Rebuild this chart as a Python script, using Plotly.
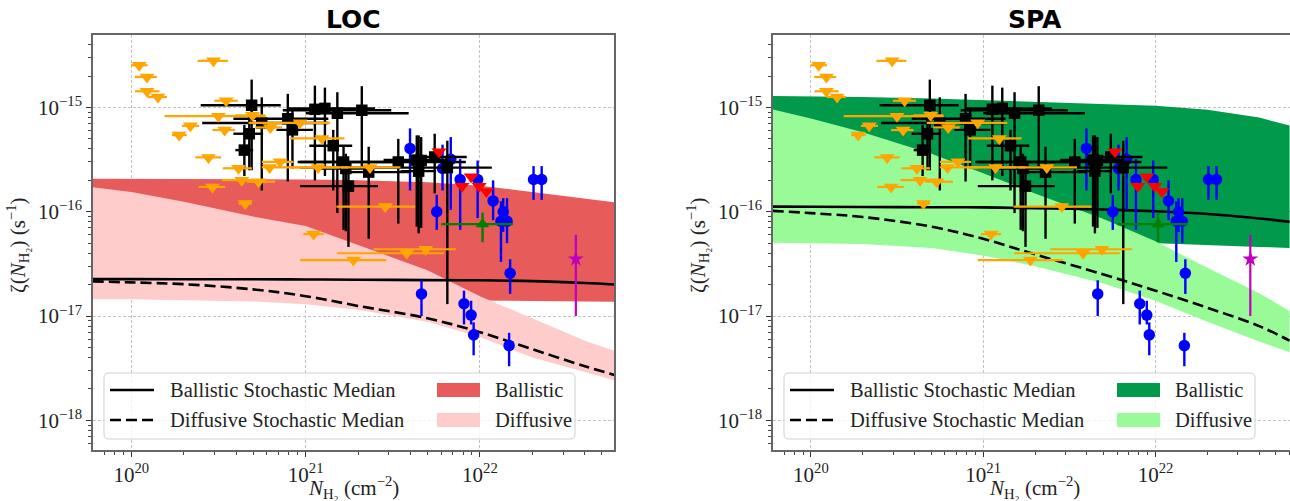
import plotly.graph_objects as go

W, H = 1290, 501

# ---------------- model curves (column density grid) ----------------
N_grid = [6e19, 1e20, 2e20, 5e20, 1e21, 2e21, 5e21, 1e22, 2e22, 4e22, 6e22]

loc_ball_upper = [2.07e-16, 2.07e-16, 2.06e-16, 2.05e-16, 2.04e-16, 2.0e-16, 1.92e-16, 1.78e-16, 1.55e-16, 1.33e-16, 1.23e-16]
loc_ball_lower = [1.46e-17, 1.46e-17, 1.45e-17, 1.45e-17, 1.44e-17, 1.43e-17, 1.42e-17, 1.41e-17, 1.39e-17, 1.38e-17, 1.37e-17]
loc_diff_upper = [1.72e-16, 1.55e-16, 1.25e-16, 9.0e-17, 7.3e-17, 4.8e-17, 2.75e-17, 1.55e-17, 9.5e-18, 5.8e-18, 4.6e-18]
loc_diff_lower = [1.45e-17, 1.45e-17, 1.43e-17, 1.38e-17, 1.3e-17, 1.15e-17, 8.8e-18, 6.3e-18, 4.0e-18, 2.9e-18, 2.4e-18]
loc_ball_median = [2.26e-17, 2.26e-17, 2.25e-17, 2.25e-17, 2.24e-17, 2.23e-17, 2.21e-17, 2.2e-17, 2.16e-17, 2.07e-17, 2.0e-17]
loc_diff_median = [2.15e-17, 2.1e-17, 2.02e-17, 1.8e-17, 1.55e-17, 1.25e-17, 9.5e-18, 7.0e-18, 4.8e-18, 3.3e-18, 2.7e-18]

spa_ball_upper = [1.29e-15, 1.28e-15, 1.26e-15, 1.22e-15, 1.18e-15, 1.14e-15, 1.09e-15, 1.04e-15, 9.5e-16, 8.0e-16, 6.7e-16]
spa_ball_lower = [5.5e-17, 5.5e-17, 5.45e-17, 5.4e-17, 5.35e-17, 5.3e-17, 5.2e-17, 5.05e-17, 4.8e-17, 4.6e-17, 4.5e-17]
spa_diff_upper = [9.6e-16, 7.85e-16, 5.8e-16, 3.6e-16, 2.34e-16, 1.5e-16, 8.5e-17, 5.2e-17, 2.9e-17, 1.65e-17, 1.12e-17]
spa_diff_lower = [5.05e-17, 5.0e-17, 4.9e-17, 4.5e-17, 3.8e-17, 3.0e-17, 2.05e-17, 1.4e-17, 8.8e-18, 5.7e-18, 4.5e-18]
spa_ball_median = [1.12e-16, 1.115e-16, 1.11e-16, 1.105e-16, 1.1e-16, 1.08e-16, 1.05e-16, 1.01e-16, 9.5e-17, 8.6e-17, 8.0e-17]
spa_diff_median = [1.02e-16, 9.7e-17, 8.9e-17, 7.2e-17, 5.5e-17, 3.9e-17, 2.5e-17, 1.75e-17, 1.2e-17, 8.0e-18, 5.8e-18]

# ---------------- observations ----------------
# orange: upper limits
ul_N = [1.11e20, 1.23e20, 1.23e20, 1.42e20, 2.96e20, 3.50e20, 3.16e20, 2.18e20, 1.88e20, 3.43e20,
        4.95e20, 6.27e20, 9.29e20, 1.24e21, 2.77e20, 4.12e20, 7.14e20, 6.21e20, 1.18e21, 2.34e21,
        4.30e20, 5.37e20, 2.92e20, 4.50e20, 1.11e21, 1.88e21, 3.80e21, 4.89e21, 2.86e21]
ul_zeta = [2.54e-15, 1.96e-15, 1.43e-15, 1.26e-15, 2.80e-15, 1.16e-15, 8.26e-16, 6.67e-16, 5.44e-16, 6.07e-16,
           8.40e-16, 6.43e-16, 7.13e-16, 5.05e-16, 3.32e-16, 2.61e-16, 3.01e-16, 2.66e-16, 2.66e-16, 2.66e-16,
           2.01e-16, 1.94e-16, 1.73e-16, 1.20e-16, 6.10e-17, 3.44e-17, 4.00e-17, 4.37e-17, 1.12e-16]
ul_N_lo = [9.95e19, 1.045e20, 1.05e20, 1.24e20, 2.40e20, 2.99e20, 1.55e20, 1.95e20, 1.71e20, 2.92e20,
           3.94e20, 5.13e20, 4.70e20, 8.15e20, 2.33e20, 3.35e20, 5.60e20, 5.60e20, 8.10e20, 1.60e21,
           3.31e20, 4.60e20, 2.43e20, 4.12e20, 9.70e20, 9.30e20, 1.51e21, 2.45e21, 1.50e21]
ul_N_hi = [1.24e20, 1.40e20, 1.45e20, 1.60e20, 3.58e20, 4.08e20, 5.90e20, 2.45e20, 2.08e20, 3.94e20,
           5.86e20, 7.31e20, 1.38e21, 1.67e21, 3.27e20, 4.92e20, 8.50e20, 1.55e21, 1.75e21, 3.50e21,
           5.86e20, 6.68e20, 3.46e20, 4.92e20, 1.27e21, 2.90e21, 6.20e21, 7.30e21, 4.25e21]

# black squares
sq_N = [4.9e20, 5.6e20, 4.75e20, 4.45e20, 7.9e20, 8.4e20, 1.13e21, 1.29e21, 1.52e21, 2.1e21,
        1.44e21, 1.65e21, 1.7e21, 1.76e21, 2.3e21, 3.4e21, 4.34e21, 4.6e21, 4.45e21, 5.5e21, 6.5e21]
sq_zeta = [1.05e-15, 7.1e-16, 5.6e-16, 3.9e-16, 7.8e-16, 6.1e-16, 9.6e-16, 9.8e-16, 8.8e-16, 9.4e-16,
           4.3e-16, 3.0e-16, 2.6e-16, 1.76e-16, 2.4e-16, 3.0e-16, 3.13e-16, 3.1e-16, 2.45e-16, 3.35e-16, 2.65e-16]
sq_N_lo = [2.5e20, 2.55e20, 3.85e20, 3.95e20, 3.85e20, 6.8e20, 8.9e20, 8.0e20, 1.0e21, 7.4e20,
           1.05e21, 9.0e20, 1.2e21, 9.3e20, 1.6e21, 9.3e20, 2.8e21, 3.8e21, 3.5e21, 4.0e21, 9.3e20]
sq_N_hi = [7.2e20, 1.35e21, 5.7e20, 5.0e20, 1.35e21, 1.1e21, 2.2e21, 2.5e21, 3.9e21, 3.1e21,
           1.85e21, 3.2e21, 2.4e21, 2.6e21, 4.0e21, 8.3e21, 6.5e21, 5.5e21, 5.6e21, 8.4e21, 1.17e22]
sq_zeta_lo = [2.5e-16, 1.6e-16, 2.5e-16, 2.2e-16, 1.95e-16, 2.6e-16, 2.0e-16, 2.2e-16, 9.7e-17, 2.7e-16,
              1.6e-16, 6.7e-17, 6.5e-17, 4.6e-17, 5.5e-17, 7.7e-17, 7.2e-17, 7.0e-17, 6.2e-17, 1.5e-16, 1.3e-17]
sq_zeta_hi = [1.85e-15, 1.25e-15, 9.0e-16, 6.8e-16, 1.35e-15, 9.5e-16, 1.62e-15, 1.55e-15, 1.4e-15, 1.6e-15,
              6.1e-16, 4.2e-16, 3.6e-16, 2.35e-16, 4.2e-16, 5.0e-16, 5.4e-16, 5.2e-16, 5.4e-16, 5.6e-16, 4.8e-16]

# blue circles
circ_N = [3.97e21, 6.1e21, 6.8e21, 7.7e21, 9.7e21, 5.65e21, 1.19e22, 1.36e22, 1.32e22, 1.43e22,
          2.03e22, 2.26e22, 4.62e21, 1.49e22, 8.1e21, 8.9e21, 9.2e21, 1.47e22]
circ_zeta = [4.05e-16, 2.6e-16, 3.18e-16, 2.04e-16, 2.04e-16, 1.0e-16, 1.27e-16, 1.0e-16, 8.1e-17, 8.1e-17,
             2.04e-16, 2.04e-16, 1.63e-17, 2.57e-17, 1.31e-17, 1.02e-17, 6.6e-18, 5.2e-18]
circ_zeta_lo = [1.6e-16, 1.6e-16, 1.04e-16, 6.7e-17, 8.7e-17, 6.7e-17, 8.3e-17, 6.4e-17, 3.3e-17, 5.0e-17,
                1.3e-16, 1.3e-16, 1.0e-17, 1.63e-17, 8.3e-18, 8.3e-18, 4.2e-18, 3.3e-18]
circ_zeta_hi = [6.3e-16, 4.4e-16, 5.2e-16, 3.2e-16, 3.1e-16, 1.45e-16, 2.0e-16, 1.35e-16, 1.26e-16, 1.35e-16,
                2.74e-16, 2.74e-16, 2.2e-17, 3.5e-17, 1.75e-17, 1.4e-17, 8.7e-18, 6.9e-18]

# red triangles
red_N = [5.82e21, 7.9e21, 8.9e21, 9.9e21, 1.09e22]
red_zeta = [3.76e-16, 1.76e-16, 2.16e-16, 1.76e-16, 1.56e-16]

# green triangle
grn_N = [1.035e22]
grn_zeta = [7.6e-17]
grn_N_lo = [6.0e21]
grn_N_hi = [1.55e22]
grn_zeta_lo = [5.1e-17]
grn_zeta_hi = [9.8e-17]

# magenta star
mag_N = [3.55e22]
mag_zeta = [3.52e-17]
mag_zeta_lo = [1.0e-17]
mag_zeta_hi = [6.0e-17]

x_ticks = [1e20, 1e21, 1e22]
x_ticktext = ["10<sup>20</sup>", "10<sup>21</sup>", "10<sup>22</sup>"]
y_ticks = [1e-18, 1e-17, 1e-16, 1e-15]
y_ticktext = ["10<sup>\u221218</sup>", "10<sup>\u221217</sup>", "10<sup>\u221216</sup>", "10<sup>\u221215</sup>"]
x_decades = [19, 20, 21, 22]
y_decades = [-19, -18, -17, -16, -15]
minor_digits = [2, 3, 4, 5, 6, 7, 8, 9]

legend_lines = ["Ballistic Stochastic Median", "Diffusive Stochastic Median"]
legend_fills = ["Ballistic", "Diffusive"]

# ---------------- figure ----------------
SERIF = "Liberation Serif"
fig = go.Figure()


def minus(v, lo):
    return [a - b for a, b in zip(v, lo)]


def plus(v, hi):
    return [b - a for a, b in zip(v, hi)]


panels = [
    dict(title="LOC", xa="x", ya="y", left=93, right=614,
         bu=loc_ball_upper, bl=loc_ball_lower, du=loc_diff_upper, dl=loc_diff_lower,
         bm=loc_ball_median, dm=loc_diff_median, cb="#E85B5B", cd="#FFCCCC"),
    dict(title="SPA", xa="x2", ya="y2", left=773, right=1296,
         bu=spa_ball_upper, bl=spa_ball_lower, du=spa_diff_upper, dl=spa_diff_lower,
         bm=spa_ball_median, dm=spa_diff_median, cb="#009A4A", cd="#98FB98"),
]

for p in panels:
    xa, ya = p["xa"], p["ya"]
    common = dict(xaxis=xa, yaxis=ya, hoverinfo="skip", showlegend=False)
    fig.add_trace(go.Scatter(x=N_grid + N_grid[::-1], y=p["bu"] + p["bl"][::-1], fill="toself",
                             fillcolor=p["cb"], mode="lines", line=dict(width=0), **common))
    fig.add_trace(go.Scatter(x=N_grid + N_grid[::-1], y=p["du"] + p["dl"][::-1], fill="toself",
                             fillcolor=p["cd"], mode="lines", line=dict(width=0), **common))
    fig.add_trace(go.Scatter(x=N_grid, y=p["bm"], mode="lines", line=dict(color="black", width=2.6,
                                                                            shape="spline"), **common))
    fig.add_trace(go.Scatter(x=N_grid, y=p["dm"], mode="lines", line=dict(color="black", width=2.6,
                                                                            dash="11px,5px", shape="spline"),
                             **common))
    # blue circles
    fig.add_trace(go.Scatter(x=circ_N, y=circ_zeta, mode="markers",
                             marker=dict(symbol="circle", size=11.5, color="#0000FF"),
                             error_y=dict(type="data", symmetric=False, array=plus(circ_zeta, circ_zeta_hi),
                                          arrayminus=minus(circ_zeta, circ_zeta_lo), color="#0000FF",
                                          thickness=2.4, width=0), **common))
    # black squares
    fig.add_trace(go.Scatter(x=sq_N, y=sq_zeta, mode="markers",
                             marker=dict(symbol="square", size=11.5, color="black"),
                             error_x=dict(type="data", symmetric=False, array=plus(sq_N, sq_N_hi),
                                          arrayminus=minus(sq_N, sq_N_lo), color="black",
                                          thickness=2.4, width=0),
                             error_y=dict(type="data", symmetric=False, array=plus(sq_zeta, sq_zeta_hi),
                                          arrayminus=minus(sq_zeta, sq_zeta_lo), color="black",
                                          thickness=2.4, width=0), **common))
    # orange upper limits
    fig.add_trace(go.Scatter(x=ul_N, y=ul_zeta, mode="markers",
                             marker=dict(symbol="triangle-down", size=13, color="#FFA500"),
                             error_x=dict(type="data", symmetric=False, array=plus(ul_N, ul_N_hi),
                                          arrayminus=minus(ul_N, ul_N_lo), color="#FFA500",
                                          thickness=2.2, width=0), **common))
    # red triangles
    fig.add_trace(go.Scatter(x=red_N, y=red_zeta, mode="markers",
                             marker=dict(symbol="triangle-down", size=13, color="#FF0000"), **common))
    # green triangle
    fig.add_trace(go.Scatter(x=grn_N, y=grn_zeta, mode="markers",
                             marker=dict(symbol="triangle-up", size=12, color="#008000"),
                             error_x=dict(type="data", symmetric=False, array=plus(grn_N, grn_N_hi),
                                          arrayminus=minus(grn_N, grn_N_lo), color="#008000",
                                          thickness=2.4, width=0),
                             error_y=dict(type="data", symmetric=False, array=plus(grn_zeta, grn_zeta_hi),
                                          arrayminus=minus(grn_zeta, grn_zeta_lo), color="#008000",
                                          thickness=2.4, width=0), **common))
    # magenta star
    fig.add_trace(go.Scatter(x=mag_N, y=mag_zeta, mode="markers",
                             marker=dict(symbol="star", size=12, color="#BF00BF"),
                             error_y=dict(type="data", symmetric=False, array=plus(mag_zeta, mag_zeta_hi),
                                          arrayminus=minus(mag_zeta, mag_zeta_lo), color="#BF00BF",
                                          thickness=2.2, width=0), **common))

DEC = 174.3
Y_TOP, Y_BOT = 35, 450

x_minor = [d * 10.0 ** e for e in x_decades for d in minor_digits]
y_minor = [d * 10.0 ** e for e in y_decades for d in minor_digits]

GRID = dict(showgrid=True, gridcolor="#c4c4c4", griddash="3px,2px", gridwidth=0.8)
TICKS = dict(ticks="outside", ticklen=5, tickwidth=1.2, tickcolor="#333",
             showline=True, linecolor="#666", linewidth=1.5,
             tickfont=dict(family=SERIF, size=21, color="#222"),
             zeroline=False, automargin=False)


def minor_cfg(vals):
    return dict(tickmode="array", tickvals=vals, ticks="outside", ticklen=3, tickwidth=1,
                tickcolor="#444", showgrid=False)


def xaxis_cfg(left, right, mirror):
    x0 = 19.78
    x1 = x0 + (right - left) / DEC
    return dict(type="log", range=[x0, x1], domain=[left / W, min(right, W) / W],
                tickmode="array", tickvals=x_ticks, ticktext=x_ticktext, mirror=mirror,
                minor=minor_cfg(x_minor), **GRID, **TICKS)


def yaxis_cfg(mirror):
    return dict(type="log", range=[-18.285, -14.305], domain=[1 - Y_BOT / H, 1 - Y_TOP / H],
                tickmode="array", tickvals=y_ticks, ticktext=y_ticktext, mirror=mirror,
                minor=minor_cfg(y_minor), **GRID, **TICKS)


xa1 = xaxis_cfg(93, 614, True)
xa1["anchor"] = "y"
ya1 = yaxis_cfg(True)
ya1["anchor"] = "x"
xa2 = xaxis_cfg(773, 1296, True)
xa2["anchor"] = "y2"
ya2 = yaxis_cfg(False)
ya2["anchor"] = "x2"


def P(x, y):
    return f"{x / W:.5f},{1 - y / H:.5f}"


def rrect(x0, y0, x1, y1, r):
    return (f"M {P(x0 + r, y0)} L {P(x1 - r, y0)} Q {P(x1, y0)} {P(x1, y0 + r)} "
            f"L {P(x1, y1 - r)} Q {P(x1, y1)} {P(x1 - r, y1)} L {P(x0 + r, y1)} "
            f"Q {P(x0, y1)} {P(x0, y1 - r)} L {P(x0, y0 + r)} Q {P(x0, y0)} {P(x0 + r, y0)} Z")


shapes = []
annotations = []
ylab = "\u03b6(<i>N</i><sub>H\u2082</sub>) (s<sup>\u22121</sup>)"
xlab = "<i>N</i><sub>H\u2082</sub> (cm<sup>\u22122</sup>)"
for p in panels:
    L, R = p["left"], p["right"]
    cx = (L + R) / 2
    annotations.append(dict(text=f"<b>{p['title']}</b>", x=cx / W, y=1 - 19 / H, xref="paper", yref="paper",
                            showarrow=False, xanchor="center", yanchor="middle",
                            font=dict(family="DejaVu Sans", size=25, color="black")))
    annotations.append(dict(text=xlab, x=cx / W, y=1 - 487 / H, xref="paper", yref="paper",
                            showarrow=False, xanchor="center", yanchor="middle",
                            font=dict(family=SERIF, size=21, color="#222")))
    annotations.append(dict(text=ylab, x=(L - 76) / W, y=1 - 245 / H, xref="paper", yref="paper",
                            showarrow=False, xanchor="center", yanchor="middle", textangle=-90,
                            font=dict(family=SERIF, size=21, color="#222")))
    # legend
    shapes.append(dict(type="path", path=rrect(L + 11, 373, L + 482, 439, 5), xref="paper", yref="paper",
                       fillcolor="rgba(255,255,255,0.8)", line=dict(color="#d0d0d0", width=1), layer="above"))
    rows = [390, 420]
    for i, ry in enumerate(rows):
        shapes.append(dict(type="line", x0=(L + 17) / W, x1=(L + 61) / W, y0=1 - ry / H, y1=1 - ry / H,
                           xref="paper", yref="paper", layer="above",
                           line=dict(color="black", width=2.6, dash="solid" if i == 0 else "11px,5px")))
        annotations.append(dict(text=legend_lines[i], x=(L + 75) / W, y=1 - ry / H, xref="paper", yref="paper",
                                showarrow=False, xanchor="left", yanchor="middle",
                                font=dict(family=SERIF, size=20.5, color="#222")))
        shapes.append(dict(type="rect", x0=(L + 344) / W, x1=(L + 387) / W, y0=1 - (ry + 7) / H,
                           y1=1 - (ry - 7) / H, xref="paper", yref="paper", layer="above",
                           fillcolor=p["cb"] if i == 0 else p["cd"], line=dict(width=0)))
        annotations.append(dict(text=legend_fills[i], x=(L + 400) / W, y=1 - ry / H, xref="paper", yref="paper",
                                showarrow=False, xanchor="left", yanchor="middle",
                                font=dict(family=SERIF, size=20.5, color="#222")))

fig.update_layout(
    width=W, height=H, margin=dict(l=0, r=0, t=0, b=0, autoexpand=False),
    paper_bgcolor="white", plot_bgcolor="white", showlegend=False,
    xaxis=xa1, yaxis=ya1, xaxis2=xa2, yaxis2=ya2,
    shapes=shapes, annotations=annotations,
)

fig.write_html("out.html", config={"displayModeBar": False},
               post_script="document.body.style.margin='0';document.body.style.padding='0';"
                           "document.body.style.overflow='hidden';")
